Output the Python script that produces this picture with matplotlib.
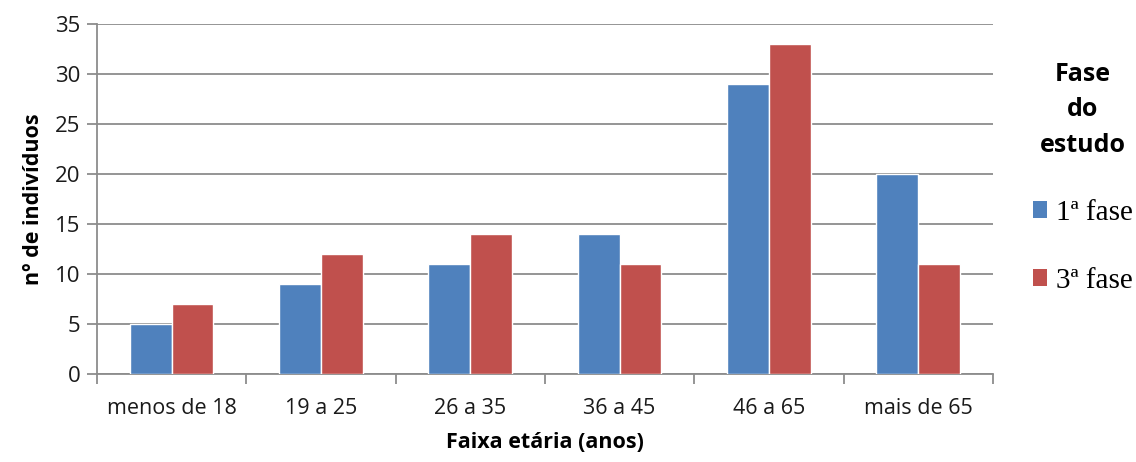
import matplotlib
matplotlib.use("Agg")
import matplotlib.pyplot as plt
import numpy as np
from matplotlib.patches import Patch

categories = ["menos de 18", "19 a 25", "26 a 35", "36 a 45", "46 a 65", "mais de 65"]
fase1 = [5, 9, 11, 14, 29, 20]
fase3 = [7, 12, 14, 11, 33, 11]
series_labels = ["1ª fase", "3ª fase"]
colors = ["#4F81BD", "#C0504D"]

plt.rcParams['font.family'] = ['Open Sans', 'DejaVu Sans']

fig = plt.figure(figsize=(11.36, 4.62), dpi=100)
ax = fig.add_axes([0.0854, 0.1905, 0.7886, 0.7575])

x = np.arange(len(categories))
w = 0.28
ax.bar(x - w/2, fase1, width=w, color=colors[0], edgecolor="white", linewidth=1.0, zorder=3)
ax.bar(x + w/2, fase3, width=w, color=colors[1], edgecolor="white", linewidth=1.0, zorder=3)

ax.set_xlim(-0.5, len(categories) - 0.5)
ax.set_ylim(0, 35)
ax.set_yticks(np.arange(0, 36, 5))
ax.yaxis.grid(True, color="#8C8C8C", linewidth=1.3, zorder=0)
ax.set_axisbelow(True)

ax.set_xticks(x)
ax.set_xticklabels(categories, fontsize=15.5, color="#1a1a1a")
ax.set_xticks(np.arange(-0.5, len(categories)), minor=True)
ax.tick_params(axis='x', which='major', length=0, pad=17)
ax.tick_params(axis='x', which='minor', length=7, width=1.3, color="#8C8C8C", direction='out')
ax.tick_params(axis='y', length=7, width=1.3, color="#8C8C8C", labelsize=16, labelcolor="#1a1a1a", pad=5)

for s in ["top", "right"]:
    ax.spines[s].set_visible(False)
for s in ["left", "bottom"]:
    ax.spines[s].set_color("#8C8C8C")
    ax.spines[s].set_linewidth(1.3)

ax.set_ylabel("nº de indivíduos", fontsize=15.5, fontweight="bold", labelpad=8)
ax.set_xlabel("Faixa etária (anos)", fontsize=15.5, fontweight="bold", labelpad=10)

handles = [Patch(facecolor=colors[0]), Patch(facecolor=colors[1])]
leg = fig.legend(handles, series_labels, loc="center", bbox_to_anchor=(0.953, 0.615),
                 title="Fase\ndo\nestudo", frameon=False,
                 prop={"family": "Liberation Serif", "size": 21},
                 title_fontproperties={"weight": "bold", "size": 18, "family": "Open Sans"},
                 handlelength=0.5, handleheight=0.5, handletextpad=0.3, labelspacing=1.45)
leg.get_title().set_multialignment("center")
leg.get_title().set_linespacing(1.55)
leg._legend_box.align = "center"

fig.savefig("out.png", dpi=100)
